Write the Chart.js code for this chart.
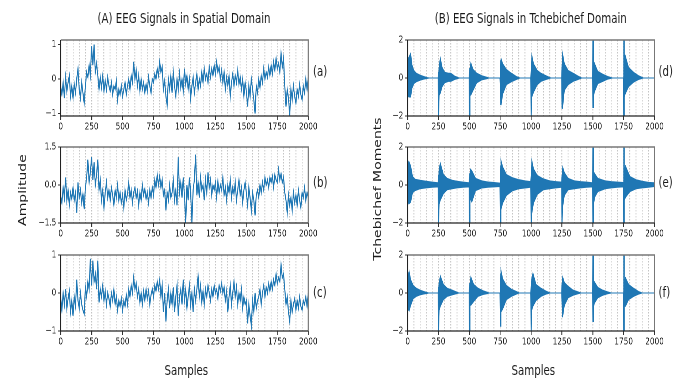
<!DOCTYPE html>
<html><head><meta charset="utf-8">
<script src="https://cdn.jsdelivr.net/npm/chart.js@4/dist/chart.umd.min.js"></script>
<style>
html,body{margin:0;padding:0;background:#fff;overflow:hidden;width:694px;height:380px;}
#page{position:absolute;left:0;top:0;width:950px;height:380px;transform-origin:0 0;transform:scaleX(0.7305);font-family:'DejaVu Sans',sans-serif;color:#1a1a1a;}
.t{position:absolute;white-space:nowrap;font-size:14px;line-height:1;transform:translate(-50%,-50%);}
.p{position:absolute;white-space:nowrap;font-size:14px;line-height:1;transform:translate(0,-50%);}
.r{position:absolute;white-space:nowrap;font-size:14px;line-height:1;transform:translate(-50%,-50%) rotate(-90deg);}
canvas{position:absolute;}
</style></head><body>
<div id="page">
  <div class="t" style="left:252px;top:17.5px">(A) EEG Signals in Spatial Domain</div>
  <div class="t" style="left:726.5px;top:17.5px">(B) EEG Signals in Tchebichef Domain</div>
  <div class="t" style="left:255px;top:370px">Samples</div>
  <div class="t" style="left:730px;top:370px">Samples</div>
  <div class="r" style="left:30px;top:190px">Amplitude</div>
  <div class="r" style="left:516px;top:189px">Tchebichef Moments</div>
  <div class="p" style="left:428.5px;top:71px">(a)</div>
  <div class="p" style="left:428.5px;top:182px">(b)</div>
  <div class="p" style="left:428.5px;top:292px">(c)</div>
  <div class="p" style="left:901.5px;top:71px">(d)</div>
  <div class="p" style="left:901.5px;top:182px">(e)</div>
  <div class="p" style="left:901.5px;top:292px">(f)</div>
  <canvas id="ca" width="405" height="104" style="left:42.5px;top:33.5px;width:405px;height:104px"></canvas>
  <canvas id="cb" width="405" height="104" style="left:42.5px;top:141px;width:405px;height:104px"></canvas>
  <canvas id="cc" width="405" height="104" style="left:42.5px;top:248.5px;width:405px;height:104px"></canvas>
  <canvas id="cd" width="404" height="104" style="left:517.5px;top:33.5px;width:404px;height:104px"></canvas>
  <canvas id="ce" width="404" height="104" style="left:517.5px;top:141px;width:404px;height:104px"></canvas>
  <canvas id="cf" width="404" height="104" style="left:517.5px;top:248.5px;width:404px;height:104px"></canvas>
</div>
<script>
// ---- Spatial-domain signals, one value every 10 samples (0..2000) ----
const samples = Array.from({length: 201}, (_, i) => i * 10);
const sigA = [
 -0.2,-0.45,-0.1,-0.55,0.05,-0.35,-0.1,0.1,-0.5,-0.2,
 -0.55,-0.15,-0.4,0.0,0.3,-0.3,-0.55,-0.1,-0.4,-0.7,
 -0.2,0.2,0.05,0.4,0.1,0.95,0.4,1.0,0.2,0.45,
 0.1,-0.3,0.05,-0.25,0.1,-0.35,-0.05,-0.3,0.05,-0.2,
 -0.35,-0.1,-0.45,-0.2,-0.3,-0.05,-0.6,-0.3,-0.45,-0.2,
 -0.5,-0.3,-0.1,-0.45,-0.2,0.0,-0.3,0.1,-0.1,0.5,
 0.0,0.25,-0.2,0.1,-0.35,0.0,-0.3,-0.1,-0.4,-0.15,
 -0.35,0.05,-0.2,-0.4,0.0,-0.1,0.15,0.0,0.3,0.1,
 0.5,0.2,0.35,-0.3,-0.05,-0.5,-0.75,0.0,-0.3,0.1,
 -0.4,0.2,-0.2,-0.5,0.0,-0.3,0.15,-0.25,0.0,-0.35,
 0.3,-0.15,0.1,-0.3,0.0,-0.55,-0.2,0.05,-0.4,-0.1,
 0.15,-0.3,0.0,-0.2,0.2,-0.1,0.3,0.0,0.15,-0.1,
 0.35,0.05,0.3,0.1,0.4,0.15,0.5,0.2,0.35,0.0,
 0.25,-0.1,0.2,-0.3,0.05,-0.2,0.1,-0.5,-0.1,0.15,
 -0.2,0.1,-0.1,0.25,-0.15,0.05,-0.3,0.0,-0.5,-0.1,
 -0.35,-0.8,-0.2,-0.5,0.0,-0.3,-0.6,-1.0,-0.2,-0.4,
 0.0,-0.25,0.1,-0.1,0.3,0.0,0.2,0.05,0.35,0.1,
 0.4,0.15,0.5,0.25,0.6,0.3,0.45,0.2,0.75,0.35,
 0.6,-0.2,-0.8,-0.3,-0.55,-1.05,-0.3,-0.6,-0.2,-0.5,
 -0.7,-0.3,-0.5,-0.15,-0.45,-0.6,-0.2,-0.4,0.0,-0.3,
 0.05];
const sigB = [
 -0.4,-0.7,-0.1,-0.5,0.3,-0.6,-0.2,-0.8,-0.3,-0.55,
 -0.1,-0.6,-0.3,-1.1,0.1,-0.5,-0.2,-0.7,-0.35,-0.95,
 -0.1,0.3,1.0,0.1,0.5,1.1,0.2,0.9,0.0,0.4,
 1.0,-0.2,0.2,-0.6,-0.2,-0.9,-0.3,0.1,-0.5,-0.2,
 -0.6,-0.1,-0.4,-0.8,-0.2,-0.5,0.0,-0.6,-0.3,-0.7,
 -0.4,-0.9,-0.2,-0.6,-0.35,0.1,-0.5,-0.2,-0.7,-0.3,
 -0.1,-0.5,-0.25,-0.8,-0.3,-0.6,0.0,-0.4,-0.15,-0.55,
 -0.3,-0.7,-0.2,-0.5,-0.1,-0.4,0.2,-0.1,0.4,0.0,
 0.35,-0.1,0.2,-0.4,-0.2,-1.0,-0.3,-0.6,0.0,-0.5,
 -0.3,0.2,-0.6,-0.2,-0.8,1.1,-0.3,0.1,-0.5,0.3,
 -0.4,-1.5,0.0,-0.6,0.3,-0.3,-1.5,-0.2,0.2,1.2,
 -0.4,0.1,-0.5,0.3,-0.2,0.0,-0.6,0.2,-0.3,0.5,
 -0.1,0.2,-0.4,0.0,-0.2,0.1,-0.5,0.15,-0.3,0.0,
 -0.2,0.3,-0.4,-0.1,-0.6,0.0,-0.3,0.2,-0.5,-0.1,
 -0.35,0.1,-0.6,-0.2,0.2,-0.4,-0.1,-0.7,-0.2,0.1,
 -0.3,-0.8,-0.1,-0.5,-1.0,-0.3,-0.6,-1.2,-0.4,-0.2,
 -0.5,0.0,-0.3,0.1,-0.2,0.3,0.0,0.2,-0.1,0.3,
 0.1,0.35,-0.1,0.4,0.2,0.1,0.6,0.2,0.45,0.1,
 0.3,-0.3,-0.6,-1.1,-0.4,-0.8,-0.5,-1.0,-0.3,-0.7,
 -0.4,-0.8,-0.2,-0.6,-0.9,-0.3,-0.5,-0.1,-0.6,-0.3,
 -0.5];
const sigC = [
 -0.1,-0.45,0.0,-0.3,0.1,-0.4,-0.15,0.05,-0.5,-0.2,
 -0.6,-0.1,-0.35,0.35,-0.2,-0.4,0.0,-0.3,-0.45,-0.55,
 0.15,-0.1,0.3,0.1,0.9,0.2,0.85,0.3,0.5,0.1,
 0.85,-0.25,0.1,-0.1,0.2,-0.2,0.05,-0.3,0.0,-0.15,
 -0.35,0.0,-0.2,0.1,-0.3,-0.1,-0.45,-0.2,-0.35,-0.15,
 -0.45,-0.2,-0.35,-0.05,-0.3,0.1,-0.1,0.2,0.0,0.4,
 0.1,0.25,-0.1,0.1,-0.25,0.0,-0.3,0.05,-0.2,0.1,
 -0.15,0.05,-0.3,-0.05,0.1,-0.1,0.2,0.05,0.3,0.1,
 0.35,-0.1,0.2,-0.5,0.0,-0.75,-0.2,0.1,-0.4,0.0,
 -0.3,0.15,-0.5,-0.1,0.2,-0.6,-0.1,0.1,-0.3,0.35,
 -0.2,0.1,-0.4,-0.1,0.2,-0.3,0.0,-0.5,0.1,-0.2,
 0.1,0.45,-0.1,0.2,-0.25,0.05,-0.3,0.1,-0.1,0.2,
 0.0,-0.2,0.1,-0.1,0.2,0.0,0.1,-0.15,0.2,0.05,
 0.25,0.0,0.15,-0.2,0.05,-0.5,-0.1,0.2,-0.3,0.0,
 0.3,-0.1,0.15,-0.3,0.0,-0.2,0.1,-0.4,-0.1,-0.3,
 -0.2,-0.8,-0.3,-0.6,-0.85,-0.2,-0.5,0.0,-0.4,-0.2,
 -0.1,0.1,-0.3,0.0,0.2,-0.1,0.15,0.0,0.25,0.05,
 0.3,0.1,0.35,0.2,0.5,0.25,0.4,0.3,0.75,0.4,
 0.5,0.1,-0.3,-0.1,-0.5,-0.75,-0.2,-0.5,-0.3,-0.15,
 -0.45,-0.2,-0.4,-0.1,-0.35,-0.45,-0.2,-0.3,-0.1,-0.35,
 0.0];

// ---- Tchebichef-domain signals: sample positions with upper / lower envelope of the oscillation ----
const dX  = [0,10,25,35,50,70,100,130,160,175,
 247,250,253,256,265,280,300,330,350,380,410,420,
 497,500,503,506,512,530,560,600,640,660,
 747,750,753,758,770,800,840,880,910,
 997,1000,1003,1006,1020,1050,1080,1120,1160,
 1247,1250,1255,1270,1300,1340,1380,1410,
 1497,1500,1503,1506,1512,1540,1580,1620,1660,
 1747,1750,1753,1756,1762,1790,1830,1870,1910,2000];
const dUp = [0.9,1.1,1.3,0.7,0.4,0.25,0.15,0.08,0.02,0,
 0,0.3,0.5,0.7,1.05,0.55,0.3,0.25,0.25,0.1,0.02,0,
 0,0.3,0.5,0.6,0.8,0.45,0.25,0.12,0.04,0,
 0,0.5,0.9,1.0,0.75,0.45,0.25,0.08,0,
 0,0.4,0.8,1.2,0.75,0.4,0.25,0.12,0,
 0,0.6,1.3,0.75,0.4,0.25,0.1,0,
 0,2.3,2.3,0.7,0.8,0.35,0.2,0.08,0,
 0,2.3,2.3,0.9,1.2,0.55,0.3,0.12,0,0];
const dLo = [-0.9,-1.0,-1.0,-0.55,-0.3,-0.2,-0.12,-0.06,-0.02,0,
 0,-2.3,-2.3,-0.9,-0.8,-0.45,-0.25,-0.18,-0.18,-0.08,-0.02,0,
 0,-2.3,-2.3,-0.8,-0.9,-0.65,-0.25,-0.1,-0.04,0,
 0,-0.6,-1.4,-1.4,-0.85,-0.35,-0.2,-0.08,0,
 0,-2.3,-2.3,-1.0,-0.75,-0.35,-0.18,-0.08,0,
 0,-1.6,-1.6,-0.65,-0.35,-0.18,-0.08,0,
 0,-1.55,-1.55,-1.0,-0.75,-0.3,-0.18,-0.06,0,
 0,-2.3,-2.3,-1.0,-0.85,-0.45,-0.22,-0.08,0,0];

const eX  = [0,10,25,40,60,100,150,200,247,
 250,253,256,265,290,320,360,400,450,497,
 500,503,506,520,550,600,650,700,747,
 750,753,756,770,800,850,900,950,997,
 1000,1003,1006,1020,1050,1100,1150,1200,1247,
 1250,1253,1256,1270,1300,1350,1400,1450,1497,
 1500,1503,1506,1515,1540,1600,1650,1700,1747,
 1750,1753,1756,1765,1800,1850,1900,1950,2000];
const eUp = [1.0,1.25,1.0,0.45,0.3,0.25,0.2,0.15,0.12,
 0.5,0.7,0.9,1.15,0.55,0.35,0.25,0.2,0.15,0.12,
 0.4,0.6,0.85,0.75,0.35,0.22,0.16,0.13,0.1,
 0.6,1.0,1.3,0.95,0.55,0.38,0.28,0.22,0.18,
 0.5,0.9,1.3,0.85,0.5,0.32,0.22,0.18,0.15,
 0.5,0.7,0.95,0.65,0.35,0.22,0.18,0.15,0.12,
 2.3,2.3,0.7,0.6,0.35,0.22,0.18,0.15,0.13,
 2.3,2.3,0.8,1.0,0.45,0.28,0.2,0.14,0.12];
const eLo = [-0.8,-1.0,-0.9,-0.4,-0.3,-0.2,-0.15,-0.12,-0.1,
 -2.3,-2.3,-1.0,-0.8,-0.45,-0.25,-0.2,-0.15,-0.12,-0.1,
 -2.3,-2.3,-0.7,-0.9,-0.3,-0.16,-0.12,-0.1,-0.08,
 -2.3,-2.3,-1.3,-0.95,-0.55,-0.3,-0.2,-0.16,-0.12,
 -2.3,-2.3,-1.5,-0.95,-0.5,-0.25,-0.2,-0.15,-0.12,
 -2.3,-2.3,-1.15,-0.55,-0.25,-0.2,-0.15,-0.12,-0.1,
 -2.3,-2.3,-1.05,-0.65,-0.35,-0.2,-0.15,-0.12,-0.1,
 -2.3,-2.3,-0.8,-0.65,-0.35,-0.2,-0.15,-0.12,-0.08];

const fX  = [0,12,25,45,70,100,130,160,170,
 247,250,253,256,265,290,320,360,400,415,
 497,500,503,506,512,535,570,610,650,660,
 747,750,753,756,770,800,840,880,905,
 997,1000,1003,1006,1015,1040,1080,1120,1155,
 1247,1250,1253,1256,1270,1300,1340,1380,1405,
 1497,1500,1503,1506,1512,1540,1580,1620,1650,
 1747,1750,1753,1756,1765,1790,1830,1870,1900,2000];
const fUp = [0.8,1.15,0.7,0.4,0.25,0.15,0.08,0.02,0,
 0,0.3,0.5,0.6,0.9,0.45,0.25,0.15,0.04,0,
 0,0.3,0.5,0.6,0.85,0.45,0.25,0.12,0.03,0,
 0,0.5,1.0,1.2,0.75,0.4,0.2,0.08,0,
 0,0.4,0.6,0.8,1.05,0.45,0.25,0.1,0,
 0,0.5,0.7,0.85,0.55,0.35,0.15,0.06,0,
 0,2.3,2.3,0.5,0.6,0.3,0.15,0.06,0,
 0,2.3,2.3,0.6,0.8,0.45,0.25,0.08,0,0];
const fLo = [-0.8,-0.95,-0.65,-0.3,-0.18,-0.1,-0.05,-0.02,0,
 0,-2.3,-2.3,-0.9,-0.7,-0.35,-0.18,-0.1,-0.03,0,
 0,-2.3,-2.3,-0.6,-0.65,-0.45,-0.18,-0.08,-0.03,0,
 0,-1.75,-1.75,-1.0,-0.85,-0.35,-0.18,-0.06,0,
 0,-2.3,-2.3,-0.9,-0.7,-0.4,-0.18,-0.06,0,
 0,-0.5,-1.25,-1.25,-0.65,-0.25,-0.12,-0.04,0,
 0,-1.5,-1.5,-0.8,-0.55,-0.25,-0.12,-0.04,0,
 0,-2.3,-2.3,-0.7,-0.7,-0.35,-0.18,-0.06,0,0];

const xTickStep = 50, xLabelEvery = 250;
const BLUE = '#1f77b4';
const TICKFONT = {family: 'DejaVu Sans', size: 10};
const minus = s => s.replace('-', '\u2212');

const framePlugin = {
  id: 'frame',
  afterDraw(chart) {
    const {ctx, chartArea: a} = chart;
    ctx.save();
    ctx.strokeStyle = '#777'; ctx.lineWidth = 1.6;
    ctx.beginPath(); ctx.moveTo(a.left, a.top); ctx.lineTo(a.right, a.top); ctx.lineTo(a.right, a.bottom); ctx.stroke();
    ctx.strokeStyle = '#222'; ctx.lineWidth = 1.3;
    ctx.beginPath(); ctx.moveTo(a.left, a.top); ctx.lineTo(a.left, a.bottom); ctx.lineTo(a.right, a.bottom); ctx.stroke();
    ctx.restore();
  }
};

function opts(yMin, yMax, yStep, fmt) {
  return {
    responsive: false, animation: false, events: [], devicePixelRatio: 2,
    layout: {padding: {top: 6, right: 26, bottom: 0, left: 0}},
    plugins: {legend: {display: false}, tooltip: {enabled: false}},
    scales: {
      x: {
        type: 'linear', min: 0, max: 2000,
        ticks: {stepSize: xTickStep, autoSkip: false, maxRotation: 0, minRotation: 0, padding: 1, color: '#222', font: TICKFONT,
                callback: v => (v % xLabelEvery === 0 ? String(v) : '')},
        grid: {color: c => (c.tick && c.tick.value > 0 && c.tick.value < 2000) ? '#c4c4c4' : 'rgba(0,0,0,0)',
               lineWidth: 1.2, tickLength: 4, tickWidth: 1.2,
               tickColor: c => (c.tick && c.tick.value % xLabelEvery === 0) ? '#333' : 'rgba(0,0,0,0)'},
        border: {display: false, dash: [1.5, 1.5]},
        afterFit: s => { s.height = 22; s.paddingLeft = 0; s.paddingRight = 0; }
      },
      y: {
        min: yMin, max: yMax,
        ticks: {stepSize: yStep, includeBounds: false, padding: 2, color: '#222', font: TICKFONT, callback: fmt},
        grid: {drawOnChartArea: false, tickLength: 4, tickColor: '#333', tickWidth: 1},
        border: {display: false},
        afterFit: s => { s.width = 40; s.paddingTop = 0; s.paddingBottom = 0; }
      }
    }
  };
}

const fmtInt = v => minus(String(v));
const fmtOne = v => minus(v.toFixed(1));

function lineChart(id, vals, yMin, yMax, yStep, fmt) {
  new Chart(document.getElementById(id), {
    type: 'line',
    data: {datasets: [{data: samples.map((x, i) => ({x, y: vals[i]})), borderColor: BLUE, borderWidth: 1.4,
                       pointRadius: 0, tension: 0, fill: false, clip: 0}]},
    options: opts(yMin, yMax, yStep, fmt),
    plugins: [framePlugin]
  });
}

function envChart(id, xs, up, lo) {
  new Chart(document.getElementById(id), {
    type: 'line',
    data: {datasets: [
      {data: xs.map((x, i) => ({x, y: up[i]})), borderColor: BLUE, backgroundColor: BLUE, borderWidth: 1.0,
       pointRadius: 0, tension: 0, fill: '+1', clip: 0},
      {data: xs.map((x, i) => ({x, y: lo[i]})), borderColor: BLUE, backgroundColor: BLUE, borderWidth: 1.0,
       pointRadius: 0, tension: 0, fill: false, clip: 0}
    ]},
    options: opts(-2, 2, 2, fmtInt),
    plugins: [framePlugin]
  });
}

lineChart('ca', sigA, -1.07, 1.13, 1, fmtInt);
lineChart('cb', sigB, -1.5, 1.5, 1.5, fmtOne);
lineChart('cc', sigC, -1, 1, 1, fmtInt);
envChart('cd', dX, dUp, dLo);
envChart('ce', eX, eUp, eLo);
envChart('cf', fX, fUp, fLo);
</script>
</body></html>
